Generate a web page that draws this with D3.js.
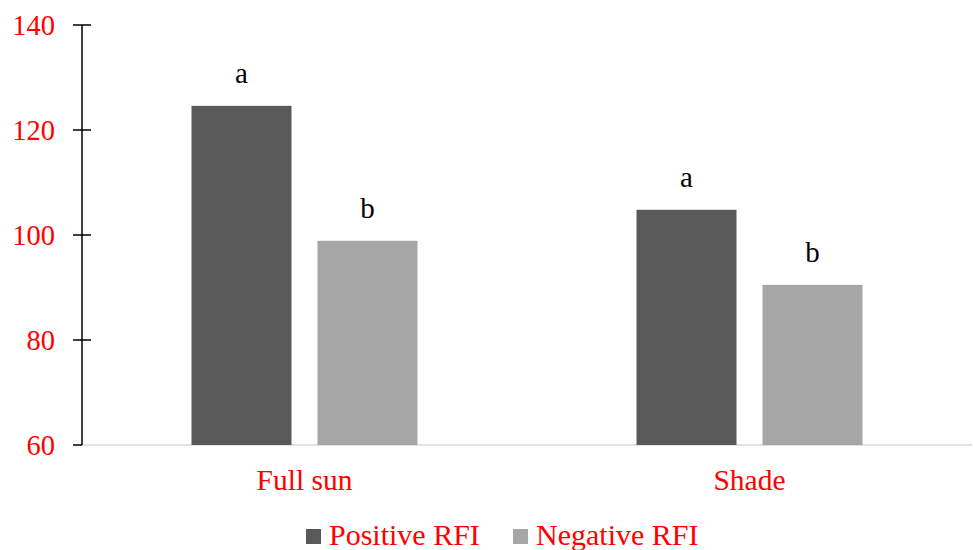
<!DOCTYPE html>
<html><head><meta charset="utf-8">
<script src="https://cdn.jsdelivr.net/npm/d3@7"></script>
<style>body{margin:0;background:#fff}svg{display:block}</style>
</head><body>
<script>
const categories = ["Full sun", "Shade"];
const seriesNames = ["Positive RFI", "Negative RFI"];
const positiveRFI = [124.6, 104.8];
const negativeRFI = [98.9, 90.5];
const positiveLetters = ["a", "a"];
const negativeLetters = ["b", "b"];
const yTicks = [60, 80, 100, 120, 140];
const colors = ["#595959", "#a6a6a6"];

const W = 973, H = 550;
const svg = d3.select("body").append("svg").attr("width", W).attr("height", H);
const font = "'Liberation Serif','Times New Roman',serif";

const x0 = d3.scaleBand().domain(categories).range([82, 972]);
const y = d3.scaleLinear().domain([60, 140]).range([445, 25]);
const x1 = d3.scaleBand().domain(seriesNames).range([0, 226]).paddingInner(26 / 126);

const series = [positiveRFI, negativeRFI];
const letters = [positiveLetters, negativeLetters];

// x axis line
svg.append("line").attr("x1", 82).attr("x2", 972).attr("y1", y(60)).attr("y2", y(60))
  .attr("stroke", "#d9d9d9").attr("stroke-width", 1.5);

// bars
categories.forEach((c, i) => {
  const gx = x0(c) + (x0.bandwidth() - 226) / 2;
  seriesNames.forEach((s, j) => {
    const v = series[j][i];
    svg.append("rect").attr("x", gx + x1(s)).attr("width", x1.bandwidth())
      .attr("y", y(v)).attr("height", y(60) - y(v)).attr("fill", colors[j]);
    svg.append("text").attr("x", gx + x1(s) + x1.bandwidth() / 2).attr("y", y(v) - 23)
      .attr("text-anchor", "middle").attr("font-family", font).attr("font-size", 29)
      .attr("fill", "#000").text(letters[j][i]);
  });
  svg.append("text").attr("x", x0(c) + x0.bandwidth() / 2).attr("y", 490)
    .attr("text-anchor", "middle").attr("font-family", font).attr("font-size", 29.5)
    .attr("fill", "#ff0000").text(c);
});

// y axis
const yAxis = d3.axisLeft(y).tickValues(yTicks).tickSize(0).tickPadding(0);
const ga = svg.append("g").attr("transform", "translate(82,0)").call(yAxis);
ga.select(".domain").remove();
ga.selectAll("text").remove();
svg.append("line").attr("x1", 82).attr("x2", 82).attr("y1", y(140)).attr("y2", y(60))
  .attr("stroke", "#000").attr("stroke-width", 1.5);
yTicks.forEach(t => {
  svg.append("line").attr("x1", 73).attr("x2", t === 60 ? 82 : 91)
    .attr("y1", y(t)).attr("y2", y(t)).attr("stroke", "#000").attr("stroke-width", 1.5);
  svg.append("text").attr("x", 55).attr("y", y(t) + 10)
    .attr("text-anchor", "end").attr("font-family", font).attr("font-size", 28.5)
    .attr("fill", "#ff0000").text(t);
});

// legend
const legX = [306, 513];
seriesNames.forEach((s, j) => {
  svg.append("rect").attr("x", legX[j]).attr("y", 529).attr("width", 15).attr("height", 15)
    .attr("fill", colors[j]);
  svg.append("text").attr("x", legX[j] + 23).attr("y", 545)
    .attr("font-family", font).attr("font-size", 30).attr("fill", "#ff0000").text(s);
});
</script>
</body></html>
